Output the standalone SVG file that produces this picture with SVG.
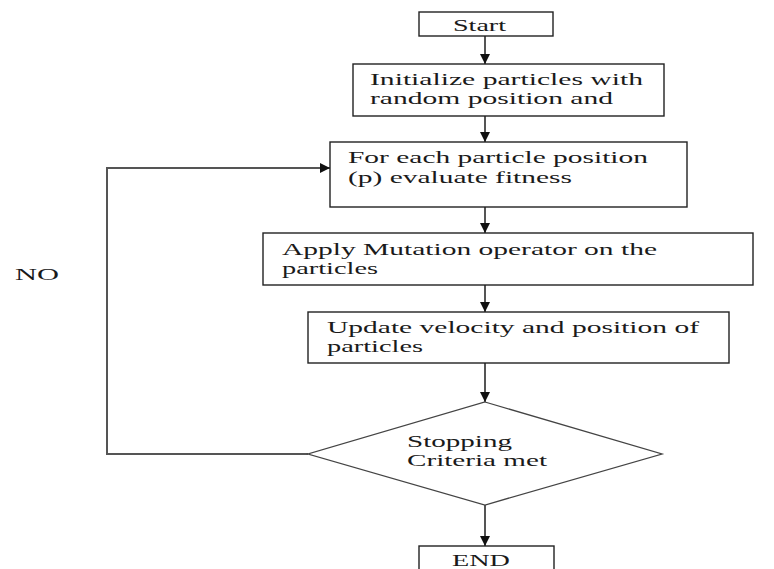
<svg xmlns="http://www.w3.org/2000/svg" width="774" height="569" viewBox="0 0 774 569">
<defs>
<marker id="ah" viewBox="0 0 10 10" refX="10" refY="5" markerWidth="10" markerHeight="10" markerUnits="userSpaceOnUse" orient="auto">
<path d="M0,0 L10,5 L0,10 z" fill="#111"/>
</marker>
<style>
.box{fill:#fff;stroke:#222;stroke-width:1.4}
.dia{fill:#fff;stroke:#444;stroke-width:1.3}
.t{font-family:'Liberation Serif','DejaVu Serif',serif;font-size:17px;fill:#1a1a1a}
.c{fill:none;stroke:#555;stroke-width:2}
</style>
</defs>
<rect width="774" height="569" fill="#fff"/>
<g id="connectors">
<line class="c" x1="485" y1="36" x2="485" y2="64" marker-end="url(#ah)"/>
<line class="c" x1="485" y1="116" x2="485" y2="142" marker-end="url(#ah)"/>
<line class="c" x1="485" y1="207" x2="485" y2="233" marker-end="url(#ah)"/>
<line class="c" x1="485" y1="285" x2="485" y2="312" marker-end="url(#ah)"/>
<line class="c" x1="485" y1="363" x2="485" y2="402" marker-end="url(#ah)"/>
<line class="c" x1="485" y1="505" x2="485" y2="546" marker-end="url(#ah)"/>
<polyline class="c" points="308,454 107,454 107,168 330,168" marker-end="url(#ah)"/>
</g>
<g id="start">
<rect class="box" x="419" y="12" width="134" height="24"/>
<text class="t" x="453" y="31" textLength="53" lengthAdjust="spacingAndGlyphs">Start</text>
</g>
<g id="init">
<rect class="box" x="353" y="64" width="311" height="52"/>
<text class="t" x="370" y="85" textLength="273" lengthAdjust="spacingAndGlyphs">Initialize particles with</text>
<text class="t" x="370" y="104" textLength="243" lengthAdjust="spacingAndGlyphs">random position and</text>
</g>
<g id="evaluate">
<rect class="box" x="330" y="142" width="357" height="65"/>
<text class="t" x="348" y="163" textLength="300" lengthAdjust="spacingAndGlyphs">For each particle position</text>
<text class="t" x="348" y="183" textLength="224" lengthAdjust="spacingAndGlyphs">(p) evaluate fitness</text>
</g>
<g id="mutation">
<rect class="box" x="263" y="233" width="490" height="52"/>
<text class="t" x="282" y="255" textLength="375" lengthAdjust="spacingAndGlyphs">Apply Mutation operator on the</text>
<text class="t" x="282" y="274" textLength="96" lengthAdjust="spacingAndGlyphs">particles</text>
</g>
<g id="update">
<rect class="box" x="308" y="312" width="421" height="51"/>
<text class="t" x="327" y="333" textLength="372" lengthAdjust="spacingAndGlyphs">Update velocity and position of</text>
<text class="t" x="327" y="352" textLength="96" lengthAdjust="spacingAndGlyphs">particles</text>
</g>
<g id="decision">
<polygon class="dia" points="485,402 662,454 485,505 308,454"/>
<text class="t" x="407" y="447" textLength="105" lengthAdjust="spacingAndGlyphs">Stopping</text>
<text class="t" x="407" y="466" textLength="140" lengthAdjust="spacingAndGlyphs">Criteria met</text>
</g>
<g id="no-label">
<text class="t" x="15" y="280" textLength="44" lengthAdjust="spacingAndGlyphs">NO</text>
</g>
<g id="end">
<rect class="box" x="419" y="546" width="135" height="30"/>
<text class="t" x="452" y="566" textLength="58" lengthAdjust="spacingAndGlyphs">END</text>
</g>
</svg>
